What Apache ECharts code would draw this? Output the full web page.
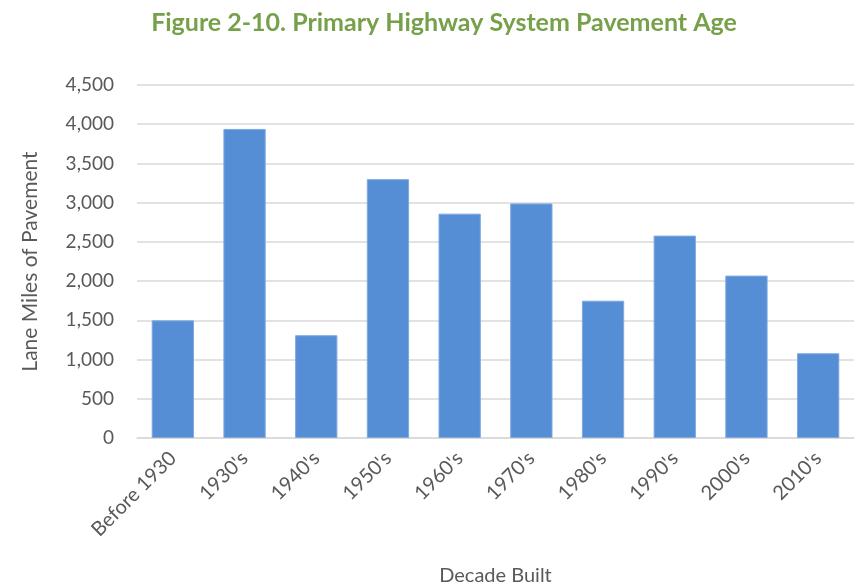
<!DOCTYPE html>
<html>
<head>
<meta charset="utf-8">
<script src="https://cdn.jsdelivr.net/npm/echarts@6/dist/echarts.min.js"></script>
<style>html,body{margin:0;padding:0;background:#fff}#c{width:859px;height:585px}</style>
</head>
<body>
<div id="c"></div>
<script>
const categories = ["Before 1930", "1930's", "1940's", "1950's", "1960's", "1970's", "1980's", "1990's", "2000's", "2010's"];
const laneMiles = [1500, 3940, 1310, 3300, 2860, 2990, 1750, 2580, 2070, 1080];
const titleText = "Figure 2-10. Primary Highway System Pavement Age";
const yName = "Lane Miles of Pavement";
const xName = "Decade Built";

const chart = echarts.init(document.getElementById('c'), null, {renderer: 'canvas'});
const font = 'Lato';
chart.setOption({
  animation: false,
  backgroundColor: '#ffffff',
  title: {
    text: titleText,
    left: 439,
    textAlign: 'center',
    top: 5,
    textStyle: {fontFamily: font, fontWeight: 'bold', fontSize: 25, color: '#77a04a'}
  },
  grid: {left: 137, right: 5, top: 85, bottom: 147, containLabel: false, outerBoundsMode: 'none'},
  xAxis: {
    type: 'category',
    data: categories,
    name: xName,
    nameLocation: 'middle',
    nameGap: 128,
    nameTextStyle: {fontFamily: font, fontSize: 20, color: '#595959'},
    axisTick: {show: false},
    axisLine: {lineStyle: {color: '#d9d9d9', width: 1.5}},
    axisLabel: {rotate: 45, margin: 17, fontFamily: font, fontSize: 20, color: '#595959', interval: 0}
  },
  yAxis: {
    type: 'value',
    min: 0, max: 4500, interval: 500,
    name: yName,
    nameLocation: 'middle',
    nameGap: 96,
    nameTextStyle: {fontFamily: font, fontSize: 21, color: '#595959'},
    axisLine: {show: false},
    axisTick: {show: false},
    splitLine: {lineStyle: {color: '#d9d9d9', width: 1.5}},
    axisLabel: {
      margin: 23, fontFamily: font, fontSize: 19, color: '#595959',
      formatter: v => v.toLocaleString('en-US')
    }
  },
  series: [{
    type: 'bar',
    data: laneMiles,
    barCategoryGap: '41%',
    itemStyle: {color: '#558ed5', borderColor: '#7ea9e0', borderWidth: 1}
  }]
});
</script>
</body>
</html>
